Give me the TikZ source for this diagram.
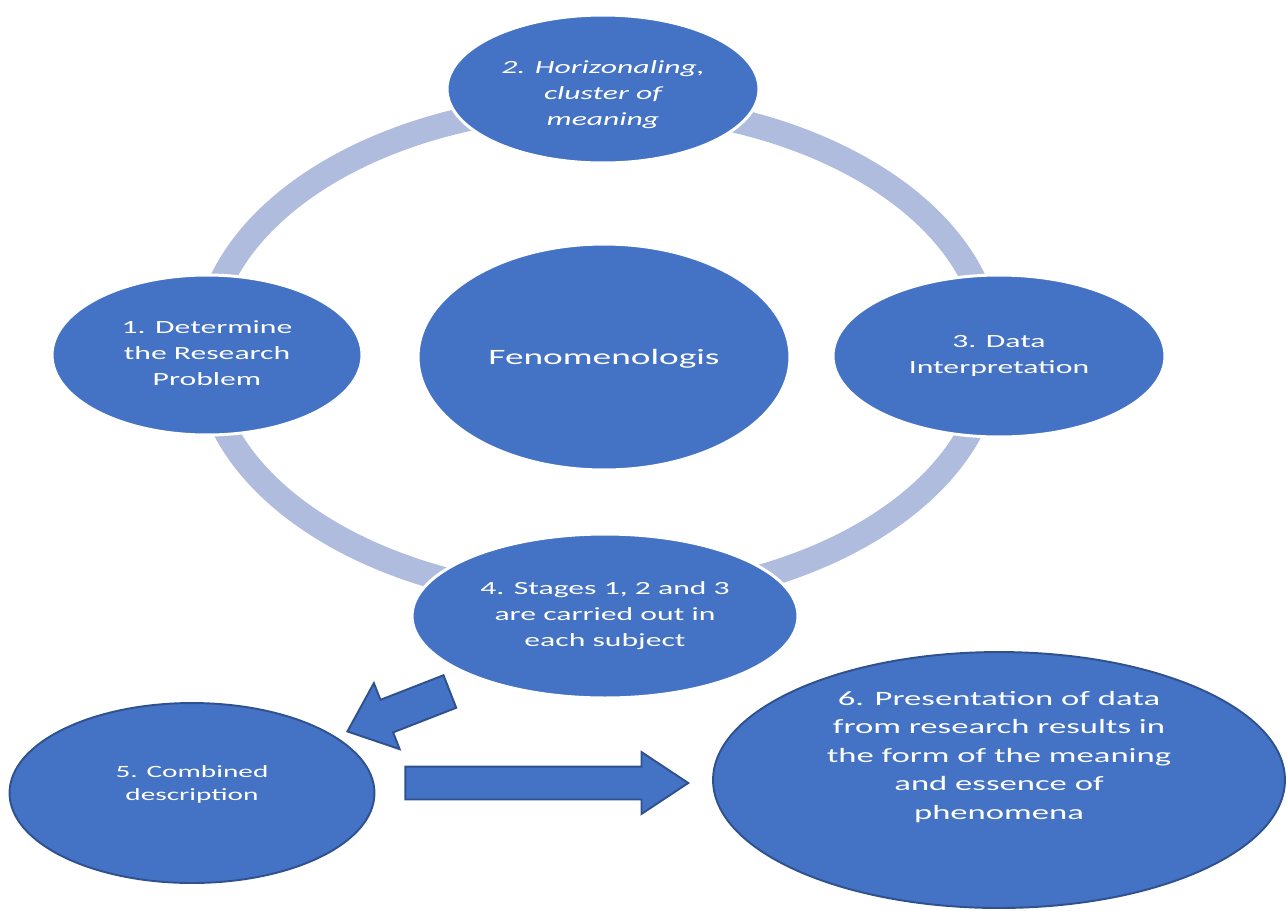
\documentclass[tikz,border=0pt]{standalone}
\usepackage{fontspec}
\setmainfont{Carlito}[FakeStretch=1.7]
\usepackage{xcolor}
\definecolor{azulOffice}{RGB}{68,114,196}
\definecolor{azulOscuro}{RGB}{47,82,143}
\definecolor{lavanda}{RGB}{175,188,222}
\usepackage{tikz}
\usetikzlibrary{shapes,arrows,calc,positioning}
\tikzstyle{ring}  =[lavanda, line width=14pt]
\tikzstyle{stage} =[ellipse, fill=azulOffice, draw=white,
                    line width=1.7pt, inner sep=0pt, text=white,
                    font=\fontsize{10.6}{14.8}\selectfont]
\tikzstyle{final} =[stage, draw=azulOscuro, line width=1.1pt]
\tikzstyle{bigarrow}=[single arrow, fill=azulOffice, draw=azulOscuro,
                    line width=1.1pt, inner xsep=0pt, anchor=tip]
\newcommand{\lineas}[2][-2.6pt]{\raisebox{#1}[0pt][0pt]{\makebox[0pt]{\begin{tabular}{@{}c@{}}#2\end{tabular}}}}

\begin{document}
\begin{tikzpicture}[x=0.02cm,y=-0.02cm]
    \useasboundingbox (0,0) rectangle (1287,910);

    \draw [ring] (598,352) ellipse [x radius=393, y radius=247];

    \draw (603,89) node (2) [stage,minimum width=6.24cm,minimum height=2.96cm]
        {\lineas[-5.7pt]{\itshape 2. Horizonaling,\\ \itshape cluster of\\ \itshape meaning}};
    \draw (207,355) node (1) [stage,minimum width=6.2cm,minimum height=3.2cm]
        {\lineas{1. Determine\\the Research\\Problem}};
    \draw (604,357) node (0) [stage,minimum width=7.44cm,minimum height=4.52cm,
        font=\fontsize{12.5}{15}\selectfont] {\lineas[-4pt]{Fenomenologis}};
    \draw (999,356) node (3) [stage,minimum width=6.64cm,minimum height=3.24cm]
        {\lineas{3. Data\\Interpretation}};
    \draw (605,616) node (4) [stage,minimum width=7.72cm,minimum height=3.28cm]
        {\lineas{4. Stages 1, 2 and 3\\are carried out in\\each subject}};
    \draw (192,793) node (5) [final,minimum width=7.3cm,minimum height=3.6cm,
        font=\fontsize{9.8}{13}\selectfont] {\lineas[2.3pt]{5. Combined\\description}};
    \draw (999,780) node (6) [final,minimum width=11.44cm,minimum height=5.12cm,
        font=\fontsize{11.6}{16.2}\selectfont]
        {\lineas[10.3pt]{6. Presentation of data\\from research results in\\the form of the meaning\\and essence of\\phenomena}};

    % block arrows, placed by their tips
    \draw (346,732) node (45) [bigarrow,rotate=201.3,minimum height=2.2cm,inner ysep=0.33cm,
        minimum width=1.38cm,single arrow head extend=0.36cm,single arrow tip angle=80] {};
    \draw (690,783) node (56) [bigarrow,minimum height=5.66cm,inner ysep=0.31cm,
        minimum width=1.2cm,single arrow head extend=0.29cm,single arrow tip angle=67] {};
\end{tikzpicture}
\end{document}
